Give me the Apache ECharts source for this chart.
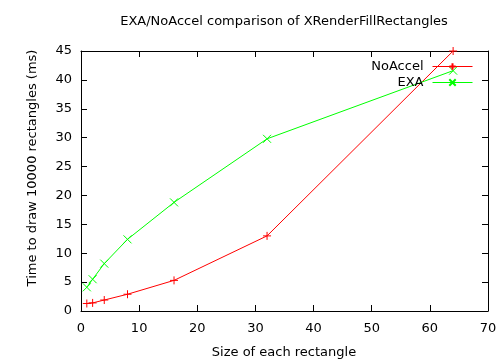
<!DOCTYPE html>
<html>
<head>
<meta charset="utf-8">
<script src="https://cdn.jsdelivr.net/npm/echarts@6/dist/echarts.min.js"></script>
<style>html,body{margin:0;padding:0;background:#fff}#c{width:504px;height:362px}</style>
</head>
<body>
<div id="c"></div>
<script>
const sizes = [1, 2, 4, 8, 16, 32, 64];
const noAccel = [1.3, 1.4, 1.9, 2.9, 5.3, 13.0, 45.0];
const exa = [4.1, 5.5, 8.2, 12.4, 18.8, 29.8, 41.6];
const xTicks = [0, 10, 20, 30, 40, 50, 60, 70];
const yTicks = [0, 5, 10, 15, 20, 25, 30, 35, 40, 45];

const FONT = 'DejaVu Sans';
const FS = 13;
const chart = echarts.init(document.getElementById('c'));
const pair = (xs, ys) => xs.map((x, i) => [x, ys[i]]);
const plusSym = 'path://M0,4L8,4M4,0L4,8';
const crossSym = 'path://M0,0L8,8M8,0L0,8';

const axisBase = {
  type: 'value',
  axisLine: { show: true, onZero: false, lineStyle: { color: '#000', width: 1 } },
  axisTick: { show: true, inside: true, length: 6, lineStyle: { color: '#000' } },
  splitLine: { show: false },
  axisLabel: { color: '#000', fontFamily: FONT, fontSize: FS, margin: 9 }
};

const legendBase = {
  right: 31, orient: 'vertical', align: 'right', padding: 0,
  itemWidth: 40, itemHeight: 8,
  lineStyle: { width: 1 },
  textStyle: { fontFamily: FONT, fontSize: FS, color: '#000', padding: [0, 4, 0, 0] }
};

chart.setOption({
  animation: false,
  backgroundColor: '#fff',
  grid: { left: 81, right: 16, top: 51, bottom: 51 },
  xAxis: [
    Object.assign({}, axisBase, { position: 'bottom', min: xTicks[0], max: xTicks[xTicks.length - 1], interval: 10,
      axisLabel: Object.assign({}, axisBase.axisLabel, { margin: 11 }) }),
    Object.assign({}, axisBase, { position: 'top', min: xTicks[0], max: xTicks[xTicks.length - 1], interval: 10, axisLabel: { show: false } })
  ],
  yAxis: [
    Object.assign({}, axisBase, { position: 'left', min: yTicks[0], max: yTicks[yTicks.length - 1], interval: 5 }),
    Object.assign({}, axisBase, { position: 'right', min: yTicks[0], max: yTicks[yTicks.length - 1], interval: 5, axisLabel: { show: false } })
  ],
  legend: [
    Object.assign({}, legendBase, { data: ['NoAccel'], top: 60 }),
    Object.assign({}, legendBase, { data: ['EXA'], top: 76 })
  ],
  graphic: [
    { type: 'text', x: 284, y: 22, style: { text: 'EXA/NoAccel comparison of XRenderFillRectangles', fontFamily: FONT, fontSize: FS, fill: '#000', textAlign: 'center', textVerticalAlign: 'middle' } },
    { type: 'text', x: 284, y: 353, style: { text: 'Size of each rectangle', fontFamily: FONT, fontSize: FS, fill: '#000', textAlign: 'center', textVerticalAlign: 'middle' } },
    { type: 'text', x: 33, y: 168, rotation: Math.PI / 2, style: { text: 'Time to draw 10000 rectangles (ms)', fontFamily: FONT, fontSize: FS, fill: '#000', textAlign: 'center', textVerticalAlign: 'middle' } }
  ],
  series: [
    { name: 'NoAccel', type: 'line', data: pair(sizes, noAccel), symbol: plusSym, symbolSize: 8, showAllSymbol: true,
      lineStyle: { color: '#ff0000', width: 1 }, itemStyle: { color: '#ff0000', borderColor: '#ff0000', borderWidth: 1 } },
    { name: 'EXA', type: 'line', data: pair(sizes, exa), symbol: crossSym, symbolSize: 8, showAllSymbol: true,
      lineStyle: { color: '#00ff00', width: 1 }, itemStyle: { color: '#00ff00', borderColor: '#00ff00', borderWidth: 1 } }
  ]
});
</script>
</body>
</html>
